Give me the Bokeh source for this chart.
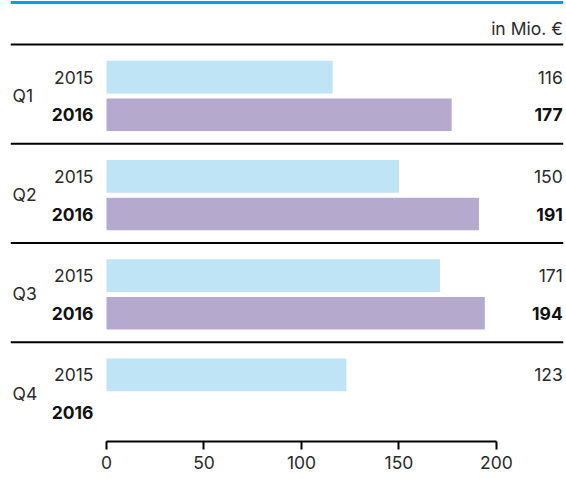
from bokeh.plotting import figure
from bokeh.models import Range1d, Span, FixedTicker, ColumnDataSource
from bokeh.core.properties import value
from bokeh.embed import file_html
from bokeh.resources import INLINE

# ---- data ----
quarters = ["Q1", "Q2", "Q3", "Q4"]
years = ["2015", "2016"]
values_2015 = [116, 150, 171, 123]
values_2016 = [177, 191, 194, None]
unit_label = "in Mio. €"
x_ticks = [0, 50, 100, 150, 200]

# ---- style ----
FONT = "Inter"
C2015 = "#bee4f6"
C2016 = "#b5a9ce"
BLUE = "#0a9be0"
TXT = "#2a2a2a"
BOLD = "#111111"
FS = "17.5px"

X0, X1 = -49.23, 234.36
Y_TOP = -0.443
OFF15, OFF16, OFFQ = 0.329, 0.708, 0.512
BAR_H = 0.329
YEAR_X = -6.7
Q_X = -48.2
VAL_X = 234.0

p = figure(width=566, height=479, output_backend="svg", toolbar_location=None,
           x_range=Range1d(X0, X1), y_range=Range1d(4, Y_TOP),
           y_axis_location=None, min_border=0,
           min_border_left=10, min_border_right=3, min_border_bottom=38)
p.outline_line_color = None
p.grid.visible = False
p.background_fill_color = "white"
p.border_fill_color = "white"

qi = list(range(len(quarters)))

# bars
b15 = ColumnDataSource(dict(y=[i + OFF15 for i in qi], v=values_2015))
p.hbar(y="y", left=0, right="v", height=BAR_H, source=b15, fill_color=C2015, line_color=None)
idx16 = [i for i in qi if values_2016[i] is not None]
b16 = ColumnDataSource(dict(y=[i + OFF16 for i in idx16], v=[values_2016[i] for i in idx16]))
p.hbar(y="y", left=0, right="v", height=BAR_H, source=b16, fill_color=C2016, line_color=None)

# separators
p.add_layout(Span(location=Y_TOP + 0.02, dimension="width", line_color=BLUE, line_width=3))
for i in qi:
    p.add_layout(Span(location=i, dimension="width", line_color="black", line_width=2))

# quarter labels
p.text(x=[Q_X] * len(qi), y=[i + OFFQ for i in qi], text=quarters,
       text_font=value(FONT), text_font_size=FS, text_color=TXT,
       text_align="left", text_baseline="middle")
# year labels
p.text(x=[YEAR_X] * len(qi), y=[i + OFF15 for i in qi], text=[years[0]] * len(qi),
       text_font=value(FONT), text_font_size=FS, text_color=TXT,
       text_align="right", text_baseline="middle")
p.text(x=[YEAR_X] * len(qi), y=[i + OFF16 for i in qi], text=[years[1]] * len(qi),
       text_font=value(FONT), text_font_size=FS, text_color=BOLD, text_font_style="bold",
       text_align="right", text_baseline="middle")
# value labels
p.text(x=[VAL_X] * len(qi), y=[i + OFF15 for i in qi], text=[str(v) for v in values_2015],
       text_font=value(FONT), text_font_size=FS, text_color=TXT,
       text_align="right", text_baseline="middle")
p.text(x=[VAL_X] * len(idx16), y=[i + OFF16 for i in idx16], text=[str(values_2016[i]) for i in idx16],
       text_font=value(FONT), text_font_size=FS, text_color=BOLD, text_font_style="bold",
       text_align="right", text_baseline="middle")
# unit
p.text(x=[VAL_X], y=[-0.161], text=[unit_label],
       text_font=value(FONT), text_font_size=FS, text_color=TXT,
       text_align="right", text_baseline="middle")

# x axis
ax = p.xaxis[0]
ax.ticker = FixedTicker(ticks=x_ticks)
ax.bounds = (0, 200)
ax.axis_line_width = 2
ax.axis_line_color = "black"
ax.major_tick_line_width = 2
ax.major_tick_line_color = "black"
ax.major_tick_out = 8
ax.major_tick_in = 0
ax.minor_tick_out = 0
ax.minor_tick_in = 0
ax.major_label_standoff = 6
ax.major_label_text_font = FONT
ax.major_label_text_font_size = FS
ax.major_label_text_color = TXT

open("out.html", "w").write(file_html(p, INLINE))
